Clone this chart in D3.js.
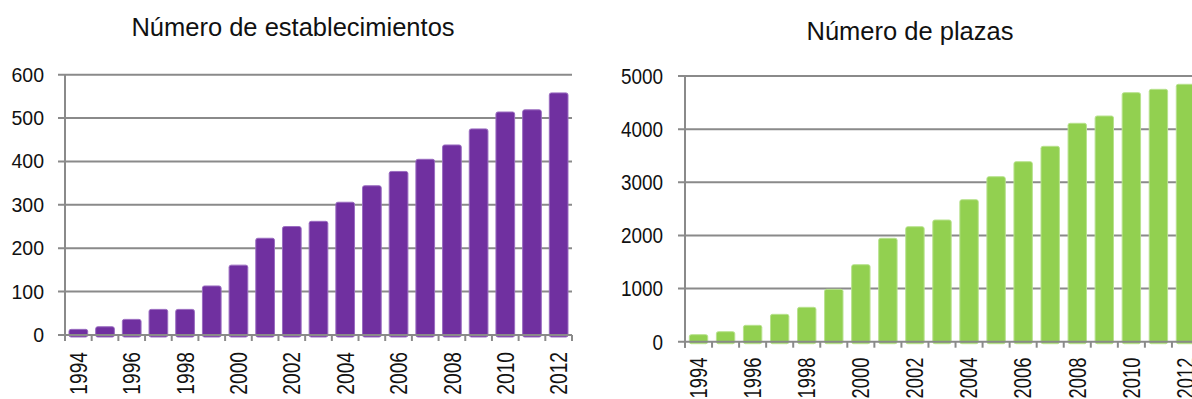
<!DOCTYPE html>
<html>
<head>
<meta charset="utf-8">
<script src="https://cdn.jsdelivr.net/npm/d3@7"></script>
<style>
  html, body { margin: 0; padding: 0; background: #fff; }
  svg { display: block; }
  text { font-family: "Liberation Sans", Arial, sans-serif; fill: #111; }
</style>
</head>
<body>
<svg id="chart" width="1192" height="399"></svg>
<script>
// Annual series 1994–2012
const years = d3.range(1994, 2013);
const establecimientos = [13, 19, 36, 59, 59, 113, 161, 223, 250, 262, 306, 344, 377, 405, 438, 475, 514, 519, 558];
const plazas = [132, 188, 308, 515, 647, 986, 1449, 1946, 2164, 2290, 2672, 3105, 3387, 3677, 4110, 4247, 4686, 4749, 4844];

const ticksEstablecimientos = [0, 100, 200, 300, 400, 500, 600];
const ticksPlazas = [0, 1000, 2000, 3000, 4000, 5000];
const labeledYears = [1994, 1996, 1998, 2000, 2002, 2004, 2006, 2008, 2010, 2012];

const titleEstablecimientos = "Número de establecimientos";
const titlePlazas = "Número de plazas";

const svg = d3.select("#chart");
const gridColor = "#8a8a8a";

function drawPanel(cfg) {
  const g = svg.append("g");
  const x = d3.scaleBand().domain(cfg.categories).range([cfg.x0, cfg.x1])
    .paddingInner(cfg.pad).paddingOuter(cfg.pad / 2);
  const y = d3.scaleLinear().domain([0, cfg.max]).range([cfg.y0, cfg.yTop]);

  // horizontal gridlines (extend a little left of the axis as tick marks)
  g.selectAll("line.grid").data(cfg.ticks.filter(t => t > 0)).join("line")
    .attr("x1", cfg.x0 - 7).attr("x2", Math.min(cfg.x1, 1192))
    .attr("y1", d => y(d)).attr("y2", d => y(d))
    .attr("stroke", gridColor).attr("stroke-width", 2);

  // bars
  g.selectAll("rect.bar").data(cfg.values).join("rect")
    .attr("x", (d, i) => x(cfg.categories[i]))
    .attr("width", x.bandwidth())
    .attr("y", d => y(d))
    .attr("height", d => y(0) - y(d) + 2)
    .attr("rx", 2).attr("ry", 2)
    .attr("fill", cfg.color)
    .attr("stroke", cfg.edge).attr("stroke-width", 1);

  // vertical axis line
  g.append("line")
    .attr("x1", cfg.x0).attr("x2", cfg.x0)
    .attr("y1", y(cfg.max)).attr("y2", cfg.y0 + 6)
    .attr("stroke", gridColor).attr("stroke-width", 2);

  // baseline
  g.append("line")
    .attr("x1", cfg.x0 - 7).attr("x2", Math.min(cfg.x1, 1192))
    .attr("y1", y(0)).attr("y2", y(0))
    .attr("stroke", gridColor).attr("stroke-width", 2);

  // category tick marks at band boundaries
  const bounds = cfg.categories.map(c => x(c) - x.step() * x.paddingOuter())
    .concat([cfg.x1]);
  g.selectAll("line.xt").data(bounds).join("line")
    .attr("x1", d => d).attr("x2", d => d)
    .attr("y1", cfg.y0).attr("y2", cfg.y0 + 6)
    .attr("stroke", gridColor).attr("stroke-width", 2);

  // value labels
  g.selectAll("text.yl").data(cfg.ticks).join("text")
    .attr("text-anchor", "end")
    .attr("transform", d => `translate(${cfg.yLabelX},${y(d)}) scale(${cfg.yLabelScale},1)`)
    .attr("dy", "0.36em")
    .attr("font-size", cfg.yLabelSize)
    .text(d => d);

  // year labels, rotated
  g.selectAll("text.xl").data(cfg.labeled).join("text")
    .attr("text-anchor", "end")
    .attr("transform", d => `translate(${x(d) + x.bandwidth() / 2},${cfg.xLabelTop}) rotate(-90) scale(${cfg.xLabelScale},1)`)
    .attr("dy", "0.36em")
    .attr("font-size", cfg.xLabelSize)
    .text(d => d);

  // title
  svg.append("text")
    .attr("x", cfg.titleX).attr("y", cfg.titleY)
    .attr("text-anchor", "middle")
    .attr("font-size", cfg.titleSize)
    .text(cfg.title);
}

drawPanel({
  categories: years, values: establecimientos, labeled: labeledYears, ticks: ticksEstablecimientos,
  max: 600, x0: 65, x1: 572, y0: 335, yTop: 74.7, pad: 0.3,
  color: "#7030A0", edge: "#9a6cc0",
  yLabelX: 44, yLabelSize: 19.5, yLabelScale: 1,
  xLabelTop: 352, xLabelSize: 24, xLabelScale: 0.8,
  title: titleEstablecimientos, titleX: 293, titleY: 36, titleSize: 25.5
});

drawPanel({
  categories: years, values: plazas, labeled: labeledYears, ticks: ticksPlazas,
  max: 5000, x0: 685, x1: 1199, y0: 341.7, yTop: 76, pad: 0.32,
  color: "#92D050", edge: "#b8e28e",
  yLabelX: 663, yLabelSize: 22, yLabelScale: 0.86,
  xLabelTop: 357.5, xLabelSize: 23, xLabelScale: 0.8,
  title: titlePlazas, titleX: 910, titleY: 40, titleSize: 25.5
});
</script>
</body>
</html>
